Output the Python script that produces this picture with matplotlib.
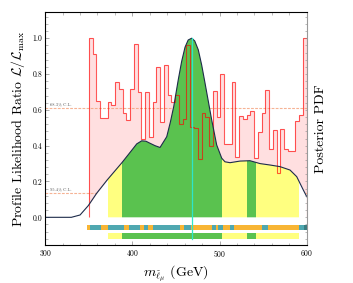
"""Profile likelihood histogram with posterior PDF for the smuon mass."""

import matplotlib

matplotlib.use("Agg")
import matplotlib.pyplot as plt
import numpy as np
from matplotlib.ticker import MultipleLocator

plt.rcParams.update(
    {
        "font.family": "serif",
        "font.serif": ["cmr10"],
        "mathtext.fontset": "cm",
        "axes.unicode_minus": False,
        "axes.formatter.use_mathtext": True,
    }
)

# profile likelihood ratio, 58 equal bins from 350 to 600 GeV
PL_RANGE = (350.0, 600.0)
pl_values = [
    1.0, 0.91, 0.65, 0.555, 0.555, 0.645, 0.625, 0.757, 0.717, 0.58,
    0.545, 0.715, 0.966, 0.70, 0.435, 0.70, 0.447, 0.646, 0.838, 0.53,
    0.85, 0.683, 0.646, 0.683, 0.52, 0.547, 0.963, 0.506, 0.50, 0.324,
    0.584, 0.559, 0.398, 0.705, 0.559, 0.80, 0.41, 0.41, 0.754, 0.339,
    0.566, 0.547, 0.571, 0.594, 0.33, 0.478, 0.584, 0.711, 0.38, 0.488,
    0.246, 0.495, 0.38, 0.372, 0.372, 0.54, 0.571, 1.0,
]

# marginal posterior (normalised to peak)
post_x = [
    300, 317, 330, 340, 349.4, 359, 371, 388, 401, 405, 410.7, 415.5, 420, 426,
    431.7, 439.4, 443.5, 447.5, 452.7, 456.5, 460.4, 464, 468, 471.5, 475.6,
    479.5, 483.3, 491, 496.7, 502.5, 506.2, 512, 523.4, 534.9, 546.4, 557.9,
    569.3, 580.8, 588.5, 596, 600,
]
post_y = [
    0.0, 0.0, 0.0, 0.013, 0.065, 0.134, 0.208, 0.305, 0.385, 0.41, 0.427, 0.425,
    0.414, 0.40, 0.39, 0.45, 0.53, 0.62, 0.77, 0.87, 0.95, 0.99, 1.0, 0.985,
    0.935, 0.85, 0.75, 0.543, 0.404, 0.33, 0.31, 0.305, 0.314, 0.316, 0.30,
    0.292, 0.283, 0.264, 0.227, 0.153, 0.115,
]
best_fit = 468.0

# posterior credible regions: (start, end, level)
post_bands = [
    (371.5, 387.7, "95"),
    (387.7, 503.2, "68"),
    (503.2, 531.8, "95"),
    (531.8, 541.8, "68"),
    (541.8, 591.5, "95"),
]

# profile likelihood confidence intervals
pl_edges = [
    348.3, 351.2, 364.0, 371.5, 390.0, 396.5, 408.7, 413.7, 418.3, 423.3,
    454.1, 458.9, 467.2, 491.0, 495.9, 497.9, 503.4, 511.6, 516.6, 548.7,
    555.0, 591.5, 596.9, 600.0,
]
pl_levels = [
    "95", "68", "95", "68", "95", "68", "95", "68", "95", "68", "95", "68",
    "95", "68", "95", "68", "95", "68", "95", "68", "95", "68", "out",
]

cl_levels = {"68.3% C.L.": 0.61, "95.4% C.L.": 0.137}

POST_COLORS = {"68": "#5ac24f", "95": "#ffff80"}
PL_COLORS = {"68": "#4fa8b0", "95": "#f8b534", "out": "#3b7d80"}


def main() -> None:
    fig = plt.figure(figsize=(3.53, 2.83), dpi=100)
    ax = fig.add_axes([0.128, 0.134, 0.741, 0.824])

    edges = np.linspace(*PL_RANGE, len(pl_values) + 1)
    ax.stairs(pl_values, edges, fill=True, color="#ffdfe0", zorder=1)

    for label, level in cl_levels.items():
        ax.axhline(level, color="#f4a07a", lw=0.8, ls=(0, (2.5, 1.2)), alpha=0.8, zorder=2)
        ax.text(305, level + 0.012, label, fontsize=3.2, color="#555555", zorder=2)

    poly = ax.fill_between(post_x, 0, post_y, color="white", lw=0, zorder=3)
    clip = poly.get_paths()[0]
    for start, end, level in post_bands:
        span = ax.axvspan(start, end, color=POST_COLORS[level], lw=0, zorder=3)
        span.set_clip_path(clip, transform=ax.transData)

    ax.stairs(pl_values, edges, color="red", lw=0.8, alpha=0.65, zorder=5)
    ax.plot(post_x, post_y, color="#1d2b4a", lw=0.8, zorder=6)

    # interval bars under the plot
    for left, right, level in zip(pl_edges[:-1], pl_edges[1:], pl_levels):
        ax.fill_between([left, right], -0.071, -0.043, color=PL_COLORS[level], lw=0, zorder=4)
    for start, end, level in post_bands:
        ax.fill_between([start, end], -0.121, -0.089, color=POST_COLORS[level], lw=0, zorder=4)
    ax.plot([best_fit, best_fit], [-0.121, 1.0], color="#2ee6c8", lw=0.9, zorder=7)

    ax.set_xlim(300, 600)
    ax.set_ylim(-0.155, 1.147)
    ax.xaxis.set_major_locator(MultipleLocator(100))
    ax.xaxis.set_minor_locator(MultipleLocator(20))
    ax.set_yticks([0.0, 0.2, 0.4, 0.6, 0.8, 1.0])
    ax.yaxis.set_minor_locator(MultipleLocator(0.04))
    ax.tick_params(which="both", direction="in", top=True, right=False,
                   labelsize=5.5, color="#888888", pad=2)
    ax.tick_params(which="major", length=3, width=0.5)
    ax.tick_params(which="minor", length=1.8, width=0.4)
    ax.set_yticklabels(["0.0", "0.2", "0.4", "0.6", "0.8", "1.0"])
    for spine in ax.spines.values():
        spine.set_color("#999999")
        spine.set_linewidth(0.7)

    right = ax.twinx()
    right.set_ylim(ax.get_ylim())
    right.yaxis.set_major_locator(MultipleLocator(0.04))
    right.tick_params(direction="in", length=1.8, width=0.4, color="#888888", labelright=False)
    right.spines["right"].set_color("#999999")
    right.set_ylabel("Posterior PDF", fontsize=10, labelpad=6)

    ax.set_ylabel(r"Profile Likelihood Ratio $\mathcal{L}/\mathcal{L}_{\rm max}$", fontsize=10, labelpad=4)
    ax.set_xlabel(r"$m_{\tilde{\ell}_\mu}$ (GeV)", fontsize=10, labelpad=3)

    fig.savefig("out.png", dpi=100)
    plt.close(fig)


if __name__ == "__main__":
    main()
